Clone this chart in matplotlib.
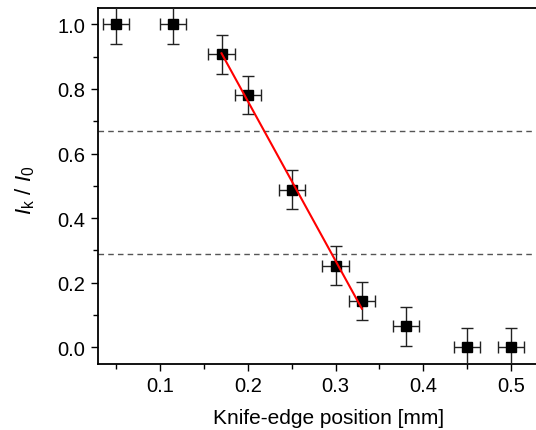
import numpy as np
import matplotlib.pyplot as plt
from matplotlib.ticker import MultipleLocator

plt.rcParams['font.family'] = ['Liberation Sans', 'DejaVu Sans']
plt.rcParams['mathtext.fontset'] = 'custom'
plt.rcParams['mathtext.rm'] = 'Liberation Sans'
plt.rcParams['mathtext.it'] = 'Liberation Sans:italic'

# knife-edge scan data
pos = [0.05, 0.115, 0.17, 0.20, 0.25, 0.30, 0.33, 0.38, 0.45, 0.50]
ratio = [1.0, 1.0, 0.907, 0.781, 0.488, 0.253, 0.144, 0.066, 0.0, 0.0]
pos_err = [0.015] * 10
ratio_err = [0.06] * 10

# linear fit over the slope
fit_x = [0.17, 0.33]
fit_y = [0.91, 0.12]

# threshold levels
levels = [0.67, 0.29]

fig = plt.figure(figsize=(5.36, 4.31), dpi=100)
ax = fig.add_axes([0.183, 0.154, 0.817, 0.825])

for lv in levels:
    ax.axhline(lv, color='#555555', ls=(0, (4, 3)), lw=1.0, zorder=1)

ax.errorbar(pos, ratio, xerr=pos_err, yerr=ratio_err, fmt='s', color='black',
            ecolor='#222222', ms=7.7, elinewidth=1.0, capsize=4, capthick=1.0, zorder=3)
ax.plot(fit_x, fit_y, color='red', lw=1.5, zorder=4)

ax.set_xlim(0.0293, 0.5285)
ax.set_ylim(-0.05, 1.05)
ax.xaxis.set_minor_locator(MultipleLocator(0.05))
ax.yaxis.set_minor_locator(MultipleLocator(0.1))
ax.set_xticks([0.1, 0.2, 0.3, 0.4, 0.5])
ax.set_xticklabels(['0.1', '0.2', '0.3', '0.4', '0.5'])
ax.set_yticks([0.0, 0.2, 0.4, 0.6, 0.8, 1.0])
ax.set_yticklabels(['0.0', '0.2', '0.4', '0.6', '0.8', '1.0'])
ax.tick_params(which='major', direction='out', length=5, width=1.0, labelsize=14.5, pad=4)
ax.tick_params(which='minor', direction='out', length=3.3, width=1.0)
ax.spines['right'].set_visible(False)
for s in ['left', 'bottom', 'top']:
    ax.spines[s].set_linewidth(1.3)

ax.set_xlabel('Knife-edge position [mm]', fontsize=15)
ax.xaxis.set_label_coords(0.527, -0.125)
ax.set_ylabel(r'$I_{\mathrm{k}}$ / $I_{0}$', fontsize=16)
ax.yaxis.set_label_coords(-0.14, 0.49)

fig.savefig('out.png', dpi=100)
